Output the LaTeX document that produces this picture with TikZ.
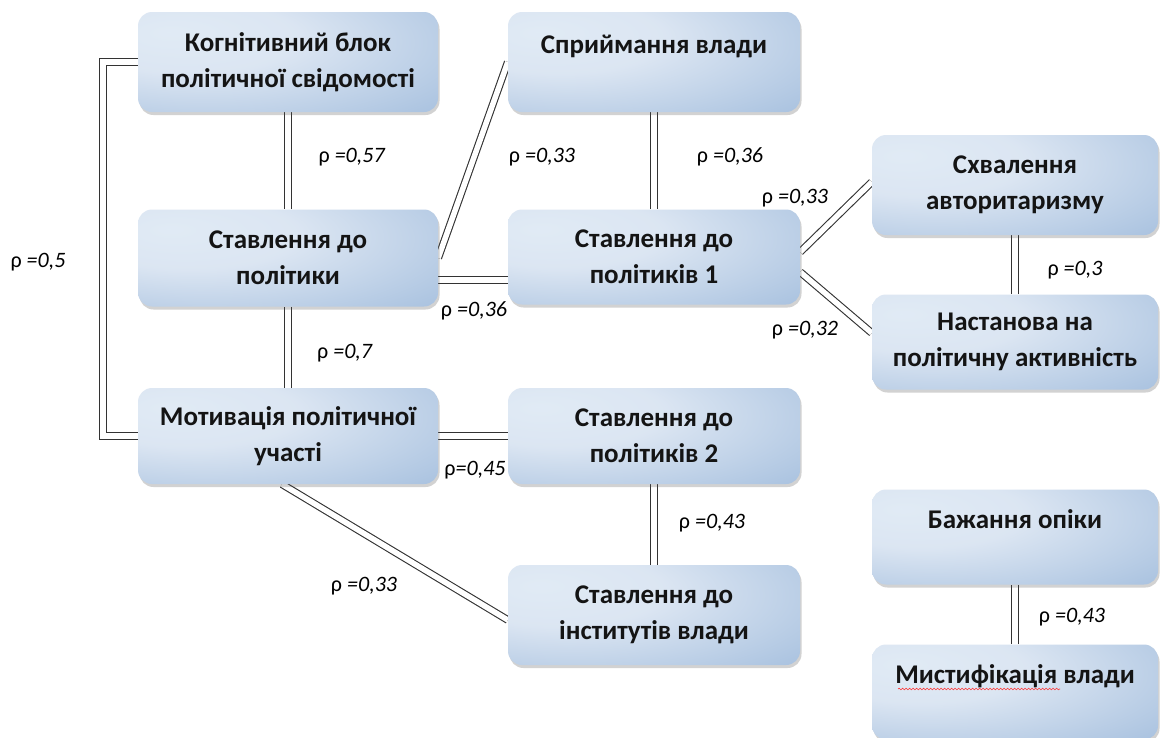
\documentclass[tikz,border=0pt]{standalone}
\usepackage{fontspec}
\setmainfont{Carlito}
\usetikzlibrary{shadows,decorations.pathmorphing}
\pgfdeclarelayer{bg}
\pgfsetlayers{bg,main}
\pgfdeclareradialshading{boxshade}{\pgfpoint{-20bp}{15bp}}{rgb(0bp)=(0.88,0.92,0.96); rgb(18bp)=(0.86,0.90,0.95); rgb(55bp)=(0.62,0.73,0.86); rgb(100bp)=(0.57,0.68,0.84)}
\tikzset{
  box/.style={rounded corners=14pt, shading=boxshade, minimum width=300pt, align=center,
    font=\bfseries\fontsize{27}{36}\selectfont, text=black!92, inner sep=0pt,
    drop shadow={shadow xshift=1.5pt, shadow yshift=-3pt, opacity=0.25, fill=black!70}},
  dbl/.style={draw=black!80, line width=1.1pt, double=white, double distance=5.5pt},
  rho/.style={font=\fontsize{22}{24}\selectfont, text=black, inner sep=0pt}
}
\begin{document}
\begin{tikzpicture}[x=1pt,y=-1pt]
\useasboundingbox (0,0) rectangle (1161,737);
% boxes
\node[box, minimum height=100pt] (kog) at (288,62) {Когнітивний блок\\політичної свідомості};
\node[box, minimum width=292pt, minimum height=100pt] (spr) at (654,62) {Сприймання влади\\\mbox{}};
\node[box, minimum height=97pt] (pol) at (288,258) {Ставлення до\\політики};
\node[box, minimum width=292pt, minimum height=95pt] (pl1) at (654,257) {Ставлення до\\політиків 1};
\node[box, minimum width=286pt, minimum height=100pt] (avt) at (1015,185) {Схвалення\\авторитаризму};
\node[box, minimum width=286pt, minimum height=95pt] (nas) at (1015,342) {Настанова на\\політичну активність};
\node[box, minimum height=96pt] (mot) at (288,436) {Мотивація політичної\\участі};
\node[box, minimum width=292pt, minimum height=96pt] (pl2) at (654,436) {Ставлення до\\політиків 2};
\node[box, minimum width=292pt, minimum height=100pt] (ins) at (654,615) {Ставлення до\\інститутів влади};
\node[box, minimum width=286pt, minimum height=95pt] (baj) at (1015,537) {Бажання опіки\\\mbox{}};
\node[box, minimum width=286pt, minimum height=95pt] (mis) at (1015,692) {Мистифікація влади\\\mbox{}};
% connectors
\begin{pgfonlayer}{bg}
\fill[white] (0,0) rectangle (1161,737);
\draw[dbl] (kog.south) -- (pol.north);
\draw[dbl] (pol.south) -- (mot.north);
\draw[dbl] (spr.south) -- (pl1.north);
\draw[dbl] (pl2.south) -- (ins.north);
\draw[dbl] (avt.south) -- (nas.north);
\draw[dbl] (baj.south) -- (mis.north);
\draw[dbl] (kog.west) -- ++(-35,0) |- (mot.west);
\draw[dbl] (pol.east) -- (spr.west);
\draw[dbl] ([yshift=-22pt]pol.east) -- ([yshift=-22pt]pol.east -| pl1.west);
\draw[dbl] (mot.east) -- (pl2.west);
\draw[dbl] ([yshift=5pt]pl1.east) -- ([yshift=3pt]avt.west);
\draw[dbl] ([yshift=-15pt]pl1.east) -- ([yshift=9pt]nas.west);
\draw[dbl] ([xshift=-6pt]mot.south) -- ([yshift=-5pt]ins.west);
\end{pgfonlayer}
% labels
\node[rho] (r1) at (352,157) {ρ \textit{=0,57}};
\node[rho] (r2) at (38,262) {ρ \textit{=0,5}};
\node[rho] (r3) at (542,157) {ρ \textit{=0,33}};
\node[rho] (r4) at (730,157) {ρ \textit{=0,36}};
\node[rho] (r5) at (795,198) {ρ \textit{=0,33}};
\node[rho] (r6) at (1075,270) {ρ \textit{=0,3}};
\node[rho] (r7) at (474,311) {ρ \textit{=0,36}};
\node[rho] (r8) at (805,330) {ρ \textit{=0,32}};
\node[rho] (r9) at (345,353) {ρ \textit{=0,7}};
\node[rho] (r10) at (475,470) {ρ\textit{=0,45}};
\node[rho] (r11) at (712,523) {ρ \textit{=0,43}};
\node[rho] (r12) at (364,586) {ρ \textit{=0,33}};
\node[rho] (r13) at (1072,617) {ρ \textit{=0,43}};
% spell-check underline
\draw[red!80, line width=0.6pt, decorate, decoration={snake, amplitude=0.8pt, segment length=3.5pt}] (898,689) -- (1060,689);
\end{tikzpicture}
\end{document}
